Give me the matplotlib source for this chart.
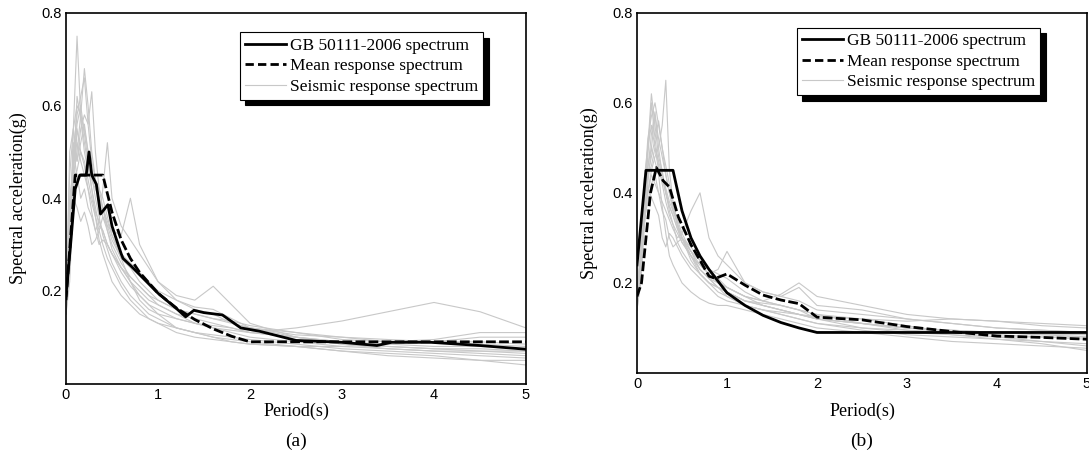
import matplotlib
matplotlib.use('Agg')
import matplotlib.pyplot as plt
from matplotlib.lines import Line2D

# period grid shared by all spectra
T = [0, 0.04, 0.08, 0.12, 0.16, 0.2, 0.24, 0.28, 0.32, 0.36, 0.4, 0.45, 0.5,
     0.6, 0.7, 0.8, 0.9, 1.0, 1.2, 1.4, 1.6, 1.8, 2.0, 2.5, 3.0, 3.5, 4.0, 4.5, 5.0]

# code spectrum
T_gb = [0, 0.1, 0.4, 0.5, 0.6, 0.7, 0.8, 1.0, 1.2, 1.4, 1.6, 1.8, 2.0, 5.0]
gb_a = [0.18, 0.45, 0.45, 0.37, 0.31, 0.27, 0.24, 0.195, 0.163, 0.138, 0.118, 0.102, 0.090, 0.090]
gb_b = [0.24, 0.45, 0.45, 0.36, 0.30, 0.26, 0.23, 0.178, 0.150, 0.128, 0.112, 0.100, 0.090, 0.090]

# mean spectra
T_mean_a = [0, 0.05, 0.1, 0.15, 0.22, 0.25, 0.28, 0.33, 0.375, 0.455, 0.5, 0.6, 0.62, 0.7,
            0.8, 1.0, 1.2, 1.3, 1.39, 1.5, 1.7, 1.9, 2.1, 2.5, 3.0, 3.38, 3.54, 3.96, 4.5, 5.0]
mean_a = [0.19, 0.30, 0.42, 0.45, 0.45, 0.50, 0.45, 0.43, 0.366, 0.386, 0.34, 0.28, 0.27, 0.255,
          0.235, 0.195, 0.162, 0.144, 0.158, 0.153, 0.148, 0.120, 0.113, 0.093, 0.089, 0.082,
          0.089, 0.089, 0.082, 0.074]
T_mean_b = [0, 0.05, 0.1, 0.15, 0.215, 0.29, 0.36, 0.46, 0.6, 0.8, 0.87, 1.0, 1.2, 1.4,
            1.6, 1.8, 2.0, 2.5, 3.0, 3.5, 4.0, 4.5, 5.0]
mean_b = [0.17, 0.20, 0.30, 0.40, 0.456, 0.427, 0.413, 0.346, 0.285, 0.215, 0.21, 0.22, 0.195,
          0.173, 0.162, 0.154, 0.124, 0.118, 0.103, 0.092, 0.082, 0.079, 0.075]

# individual records, panel (a)
rec_a = [
    [0.16,0.30,0.55,0.75,0.58,0.52,0.47,0.42,0.38,0.34,0.33,0.30,0.28,0.25,0.22,0.20,0.18,0.17,0.15,0.13,0.12,0.11,0.10,0.09,0.08,0.075,0.07,0.065,0.06],
    [0.15,0.25,0.45,0.50,0.58,0.68,0.60,0.50,0.44,0.40,0.36,0.33,0.30,0.26,0.23,0.21,0.19,0.17,0.15,0.14,0.13,0.12,0.11,0.10,0.09,0.085,0.08,0.08,0.075],
    [0.17,0.30,0.52,0.48,0.55,0.58,0.56,0.63,0.50,0.42,0.38,0.34,0.31,0.27,0.25,0.22,0.20,0.18,0.16,0.15,0.14,0.13,0.12,0.105,0.10,0.095,0.09,0.085,0.08],
    [0.19,0.35,0.50,0.45,0.40,0.42,0.38,0.36,0.33,0.35,0.42,0.52,0.40,0.34,0.31,0.28,0.25,0.22,0.18,0.16,0.15,0.13,0.12,0.10,0.09,0.08,0.075,0.07,0.065],
    [0.18,0.28,0.40,0.38,0.35,0.37,0.34,0.30,0.31,0.33,0.36,0.34,0.33,0.32,0.40,0.30,0.26,0.22,0.19,0.18,0.21,0.17,0.13,0.10,0.085,0.08,0.075,0.075,0.07],
    [0.15,0.22,0.40,0.55,0.50,0.48,0.44,0.40,0.37,0.35,0.33,0.30,0.28,0.24,0.21,0.19,0.17,0.16,0.14,0.13,0.12,0.115,0.11,0.12,0.135,0.155,0.175,0.155,0.12],
    [0.16,0.50,0.55,0.48,0.52,0.56,0.50,0.45,0.40,0.36,0.32,0.29,0.26,0.22,0.19,0.17,0.15,0.14,0.12,0.11,0.105,0.10,0.095,0.085,0.075,0.07,0.065,0.06,0.055],
    [0.18,0.40,0.47,0.56,0.60,0.54,0.48,0.42,0.36,0.31,0.28,0.25,0.22,0.19,0.17,0.15,0.14,0.13,0.12,0.11,0.10,0.095,0.09,0.08,0.07,0.065,0.06,0.05,0.04],
    [0.15,0.30,0.45,0.62,0.57,0.50,0.46,0.44,0.42,0.40,0.38,0.35,0.32,0.28,0.26,0.24,0.22,0.20,0.18,0.165,0.16,0.14,0.12,0.11,0.095,0.09,0.095,0.11,0.11],
    [0.17,0.35,0.48,0.52,0.48,0.45,0.42,0.37,0.33,0.30,0.31,0.30,0.28,0.25,0.23,0.21,0.19,0.18,0.16,0.15,0.14,0.135,0.125,0.11,0.10,0.09,0.09,0.10,0.10],
    [0.19,0.45,0.55,0.60,0.58,0.55,0.50,0.46,0.43,0.40,0.38,0.33,0.29,0.25,0.22,0.19,0.17,0.15,0.12,0.11,0.10,0.09,0.085,0.08,0.08,0.085,0.09,0.09,0.085],
    [0.16,0.25,0.50,0.58,0.62,0.66,0.56,0.48,0.44,0.42,0.40,0.36,0.32,0.27,0.22,0.18,0.16,0.15,0.14,0.13,0.125,0.12,0.11,0.10,0.085,0.075,0.07,0.07,0.07],
    [0.18,0.38,0.44,0.46,0.50,0.47,0.42,0.39,0.36,0.33,0.30,0.27,0.25,0.21,0.18,0.16,0.14,0.13,0.11,0.10,0.095,0.09,0.085,0.08,0.07,0.06,0.055,0.05,0.05],
]

# individual records, panel (b)
rec_b = [
    [0.15,0.22,0.35,0.40,0.45,0.48,0.50,0.55,0.65,0.45,0.38,0.33,0.30,0.26,0.23,0.21,0.19,0.18,0.16,0.15,0.14,0.13,0.12,0.11,0.10,0.09,0.085,0.08,0.075],
    [0.16,0.25,0.40,0.50,0.62,0.55,0.48,0.45,0.40,0.37,0.35,0.32,0.29,0.26,0.23,0.21,0.19,0.17,0.15,0.14,0.13,0.12,0.11,0.095,0.085,0.08,0.075,0.07,0.065],
    [0.14,0.20,0.38,0.48,0.60,0.52,0.56,0.50,0.44,0.40,0.37,0.33,0.30,0.27,0.25,0.23,0.22,0.21,0.18,0.16,0.15,0.14,0.12,0.11,0.10,0.095,0.09,0.085,0.08],
    [0.17,0.24,0.33,0.40,0.44,0.42,0.40,0.38,0.36,0.34,0.32,0.30,0.31,0.36,0.40,0.30,0.26,0.24,0.20,0.18,0.17,0.16,0.14,0.13,0.12,0.11,0.10,0.095,0.09],
    [0.15,0.22,0.36,0.44,0.48,0.52,0.46,0.42,0.38,0.35,0.33,0.31,0.29,0.26,0.24,0.22,0.23,0.27,0.20,0.18,0.17,0.19,0.15,0.14,0.12,0.11,0.10,0.095,0.09],
    [0.16,0.20,0.32,0.42,0.50,0.47,0.44,0.37,0.31,0.26,0.24,0.22,0.20,0.18,0.165,0.155,0.15,0.15,0.14,0.13,0.12,0.11,0.10,0.09,0.08,0.07,0.065,0.06,0.055],
    [0.15,0.23,0.40,0.52,0.57,0.60,0.55,0.50,0.46,0.42,0.38,0.33,0.30,0.25,0.22,0.20,0.19,0.18,0.16,0.15,0.14,0.13,0.12,0.10,0.09,0.085,0.08,0.08,0.08],
    [0.17,0.26,0.42,0.46,0.50,0.57,0.52,0.48,0.44,0.40,0.36,0.33,0.30,0.27,0.24,0.22,0.20,0.19,0.17,0.16,0.175,0.20,0.17,0.15,0.13,0.12,0.115,0.11,0.105],
    [0.14,0.21,0.34,0.38,0.42,0.44,0.40,0.36,0.34,0.30,0.28,0.29,0.30,0.26,0.22,0.20,0.19,0.18,0.16,0.155,0.15,0.14,0.13,0.11,0.095,0.085,0.075,0.065,0.05],
    [0.18,0.28,0.43,0.50,0.55,0.50,0.45,0.43,0.40,0.37,0.35,0.32,0.30,0.28,0.25,0.23,0.21,0.19,0.17,0.15,0.14,0.13,0.125,0.12,0.115,0.12,0.115,0.105,0.10],
    [0.15,0.22,0.37,0.45,0.53,0.58,0.50,0.44,0.40,0.36,0.33,0.29,0.27,0.24,0.22,0.20,0.18,0.17,0.15,0.14,0.13,0.12,0.11,0.10,0.095,0.09,0.09,0.085,0.085],
    [0.16,0.24,0.38,0.44,0.46,0.50,0.47,0.44,0.41,0.38,0.36,0.34,0.31,0.27,0.23,0.21,0.20,0.19,0.17,0.16,0.15,0.14,0.13,0.12,0.105,0.09,0.08,0.07,0.06],
    [0.17,0.25,0.36,0.41,0.39,0.37,0.35,0.30,0.28,0.31,0.30,0.28,0.26,0.23,0.21,0.19,0.17,0.16,0.15,0.14,0.135,0.13,0.12,0.11,0.10,0.095,0.09,0.09,0.085],
]

labels = ['GB 50111-2006 spectrum', 'Mean response spectrum', 'Seismic response spectrum']
xticks = [0, 1, 2, 3, 4, 5]
yticks = [0.2, 0.4, 0.6, 0.8]

SERIF = 'Liberation Serif'
SANS = 'Liberation Sans'
GRAY = '#c8c8c8'

fig = plt.figure(figsize=(10.89, 4.59), dpi=100)
W, H = 1089., 459.

# axes boxes in pixels: left, top, right, bottom
boxes = [(66, 13, 526, 383.5), (637, 12.7, 1087, 373)]
panels = [(rec_a, T_gb, gb_a, T_mean_a, mean_a, (3.5, 1.2), None, '(a)', (0.907, 0.948)),
          (rec_b, T_gb, gb_b, T_mean_b, mean_b, None, (3.5, 1.2), '(b)', (0.896, 0.958))]

for (l, t, r, b), (recs, tg, gb, tm, mn, gb_dash, mn_dash, tag, anchor) in zip(boxes, panels):
    ax = fig.add_axes([l / W, 1 - b / H, (r - l) / W, (b - t) / H])
    for rec in recs:
        ax.plot(T, rec, color=GRAY, lw=0.8)
    gl, = ax.plot(tg, gb, color='black', lw=2)
    if gb_dash:
        gl.set_dashes(gb_dash)
    ml, = ax.plot(tm, mn, color='black', lw=2)
    if mn_dash:
        ml.set_dashes(mn_dash)
    ax.set_xlim(0, 5)
    ax.set_ylim(0, 0.8)
    ax.set_xticks(xticks)
    ax.set_yticks(yticks)
    ax.set_yticklabels(['0.2', '0.4', '0.6', '0.8'])
    ax.tick_params(length=0, pad=3, labelsize=10.5)
    for lab in ax.get_xticklabels() + ax.get_yticklabels():
        lab.set_fontfamily(SANS)
    for s in ax.spines.values():
        s.set_linewidth(1.2)

    handles = [Line2D([], [], color='black', lw=2),
               Line2D([], [], color='black', lw=2, dashes=(3, 1.5)),
               Line2D([], [], color=GRAY, lw=0.8)]
    leg = ax.legend(handles, labels, loc='upper right', bbox_to_anchor=anchor,
                    prop={'family': SERIF, 'size': 12.5}, frameon=True, fancybox=False,
                    edgecolor='black', framealpha=1, borderpad=0.3, labelspacing=0.25,
                    handlelength=2.4, handletextpad=0.2, borderaxespad=0,
                    shadow={'color': 'black', 'alpha': 1, 'ox': 4, 'oy': -4})
    leg.get_frame().set_linewidth(0.8)

    cx = (l + r) / 2 / W
    fig.text(cx, 1 - 411 / H, 'Period(s)', family=SERIF, size=13, ha='center', va='center')
    fig.text(cx, 1 - 441 / H, tag, family=SERIF, size=14, ha='center', va='center')
    fig.text((l - 48) / W, 1 - (t + b) / 2 / H, 'Spectral acceleration(g)', family=SERIF,
             size=13, rotation=90, ha='center', va='center')

fig.savefig('out.png', dpi=100)
